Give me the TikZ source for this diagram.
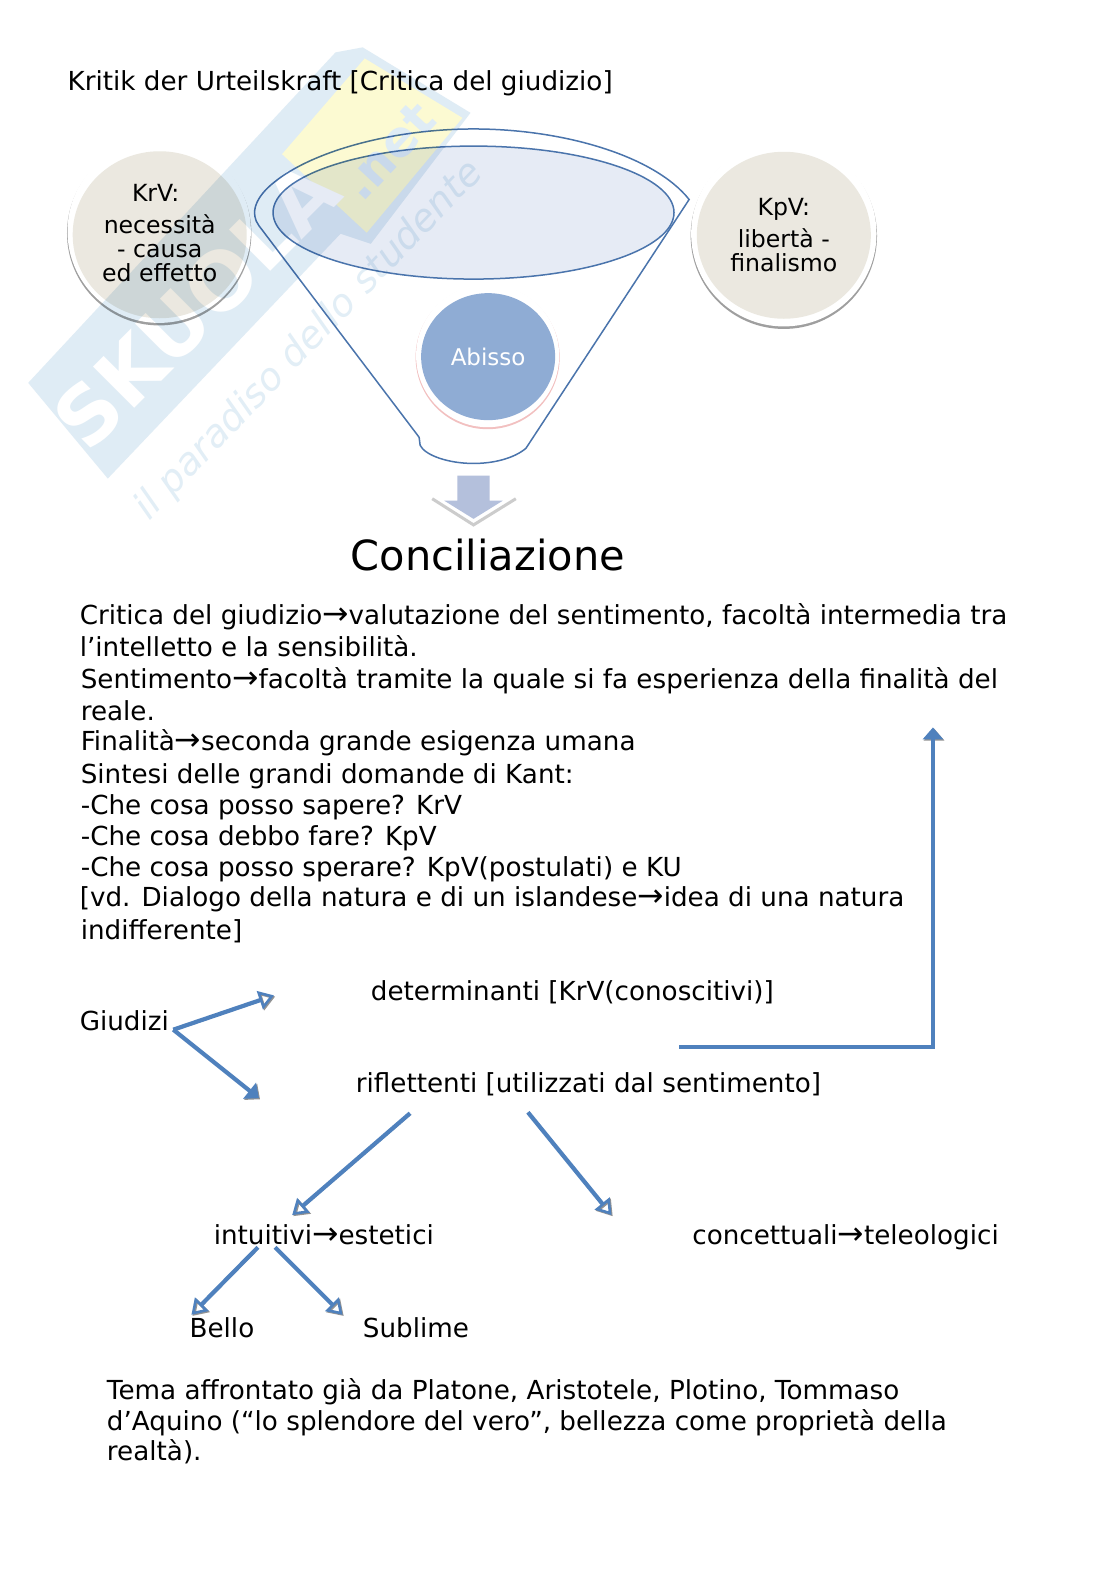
\documentclass[tikz,border=0pt]{standalone}
\usepackage{fontspec}
\setmainfont{DejaVu Sans}
\usetikzlibrary{arrows.meta, positioning, shapes.geometric}
\definecolor{linkblue}{HTML}{4F81BD}
\definecolor{funnelblue}{HTML}{4A74AC}
\definecolor{funnelfill}{HTML}{E6EBF5}
\definecolor{sandfill}{HTML}{EBE8E0}
\definecolor{abyssfill}{HTML}{8FACD4}
\definecolor{blockfill}{HTML}{B4C0DC}
\definecolor{markblue}{HTML}{DFECF5}
\definecolor{markyellow}{HTML}{FCFAD2}
\newcommand{\toarrow}{{\fontsize{31.5}{31}\selectfont→}}
\tikzset{
    x=1.0075pt, y=-1.0075pt, % counted from the top of the page
    every node/.style={inner sep=0pt, font=\fontsize{26.2}{31}\selectfont}, % sets the properties for each node
    line/.style={anchor=base west}, % a line of running text
    disc/.style={ellipse, minimum width=174pt, minimum height=167pt, fill=sandfill, align=center, font=\fontsize{23.6}{24}\selectfont},
    flow/.style={line width=4.2pt, draw=linkblue, preaction={draw=gray!85, transform canvas={shift={(1.1pt,-1.1pt)}}}}, % the blue connectors
    flowopen/.style={flow, -{Triangle[open, length=15pt, width=19pt, line width=2.6pt]}},
    flowfull/.style={flow, -{Triangle[length=12pt, width=20pt]}},
}

\begin{document}
\begin{tikzpicture}
        \useasboundingbox (0,0) rectangle (1107.69,1567.25);
        \fill[white] (0,0) rectangle (1107.69,1567.25);

        % Rims under the discs
        \fill[gray!75] (158,231.5) circle[radius=91.5];
        \fill[white] (158,229.5) circle[radius=91];
        \fill[gray!75] (778,234) circle[radius=92.5];
        \fill[white] (778,232) circle[radius=92];

        % Funnel
        \draw[funnelblue, line width=1.5pt] (416,434) -- (257,224)
            .. controls (248,212) and (253,196) .. (272,181)
            .. controls (310,150) and (390,128) .. (470,128)
            .. controls (560,128) and (650,155) .. (684,198)
            -- (522,445)
            .. controls (510,455) and (490,460) .. (470,460)
            .. controls (445,460) and (422,452) .. (417,442)
            .. controls (416,439) and (417,437) .. (416,434);
        \draw[funnelblue, line width=1.5pt, fill=funnelfill] (470,211) ellipse[x radius=199, y radius=66];

        % Abisso and its rim
        \fill[gray!35!red!30!white] (484,354.5) circle[radius=71.5];
        \fill[white] (484,353) circle[radius=71];
        \node[ellipse, minimum width=134pt, minimum height=127pt, fill=abyssfill, text=white, font=\fontsize{23}{24}\selectfont] (ABISSO) at (484.5,354) {Abisso};

        % Discs
        \node[disc] (KRV) at (158.5,233) {KrV:\hspace*{8pt}\\[8pt]necessità\\- causa\\ed effetto\\[-20pt]\mbox{}};
        \node[disc] (KPV) at (778,233.5) {KpV:\\[8pt]libertà -\\finalismo};

        % Block arrow under the funnel
        \draw[gray!40, line width=3pt] (429,495) -- (470,521) -- (512,495);
        \fill[blockfill] (454,472) -- (486,472) -- (486,497) -- (499,497) -- (470,515) -- (441,497) -- (454,497) -- cycle;

        % Text lines
        \node[line] (TITLE) at (67,90) {Kritik der Urteilskraft [Critica del giudizio]};
        \node[line, font=\fontsize{41.5}{50}\selectfont] (CONCILIAZIONE) at (348,566) {Conciliazione};
        \node[line] (L1) at (79,620) {Critica del giudizio\toarrow valutazione del sentimento, facoltà intermedia tra};
        \node[line] (L2) at (79,652) {l’intelletto e la sensibilità.};
        \node[line] (L3) at (80,683) {Sentimento\toarrow facoltà tramite la quale si fa esperienza della finalità del};
        \node[line] (L4) at (80,715) {reale.};
        \node[line] (L5) at (80,745) {Finalità\toarrow seconda grande esigenza umana};
        \node[line] (L6) at (80,778) {Sintesi delle grandi domande di Kant:};
        \node[line] (L7) at (80,808) {-Che cosa posso sapere? KrV};
        \node[line] (L8) at (80,839) {-Che cosa debbo fare? KpV};
        \node[line] (L9) at (80,870) {-Che cosa posso sperare? KpV(postulati) e KU};
        \node[line] (L10) at (79,900) {[vd. Dialogo della natura e di un islandese\toarrow idea di una natura};
        \node[line] (L11) at (80,932) {indifferente]};
        \node[line] (GIUDIZI) at (79,1023) {Giudizi};
        \node[line] (DET) at (368,993) {determinanti [KrV(conoscitivi)]};
        \node[line] (RIF) at (353,1084) {riflettenti [utilizzati dal sentimento]};
        \node[line] (INT) at (212,1235) {intuitivi\toarrow estetici};
        \node[line] (CONC) at (687,1235) {concettuali\toarrow teleologici};
        \node[line] (BELLO) at (188,1328) {Bello};
        \node[line] (SUBLIME) at (360,1328) {Sublime};
        \node[line] (T1) at (106,1389) {Tema affrontato già da Platone, Aristotele, Plotino, Tommaso};
        \node[line] (T2) at (106,1420) {d’Aquino (“lo splendore del vero”, bellezza come proprietà della};
        \node[line] (T3) at (106,1450) {realtà).};

        % Ends of the connectors
        \coordinate (G_OUT) at (172,1022);
        \coordinate (G_UP) at (272,988);
        \coordinate (G_DOWN) at (257,1090);
        \coordinate (R_LEFT) at (407,1105);
        \coordinate (I_IN) at (290,1206);
        \coordinate (R_RIGHT) at (524,1104);
        \coordinate (C_IN) at (607,1206);
        \coordinate (I_LEFT) at (256,1238);
        \coordinate (B_IN) at (190,1305);
        \coordinate (I_RIGHT) at (273,1238);
        \coordinate (S_IN) at (340,1305);
        \coordinate (BACK_OUT) at (674,1039);
        \coordinate (BACK_IN) at (926,722);

        % draw Edges
        \draw   (G_OUT) edge[flowopen] (G_UP)
                        edge[flowfull] (G_DOWN)
                (R_LEFT) edge[flowopen] (I_IN)
                (R_RIGHT) edge[flowopen] (C_IN)
                (I_LEFT) edge[flowopen] (B_IN)
                (I_RIGHT) edge[flowopen] (S_IN)
                ;
        \draw[flowfull] (BACK_OUT) -| (BACK_IN);

        % Watermark, laid over the page
        \begin{scope}[blend mode=multiply, transparency group]
            \fill[markblue] (28,380) -- (333,52) -- (360,47) -- (467,112) -- (368,242) -- (338,232) -- (107,475) -- cycle;
            \fill[markyellow] (280,153) -- (362,58) -- (459,117) -- (364,231) -- cycle;
            \node[rotate=45, text=white, font=\bfseries\fontsize{80}{80}\selectfont] (MARK) at (195,303) {SKUOLA};
            \node[rotate=47, text=markblue, font=\bfseries\fontsize{50}{50}\selectfont] (MARK_NET) at (385,150) {.net};
            \node[rotate=46, text=markblue!90!white, font=\itshape\fontsize{38}{38}\selectfont] (MOTTO) at (307,338) {il paradiso dello studente};
        \end{scope}
\end{tikzpicture}
\end{document}
